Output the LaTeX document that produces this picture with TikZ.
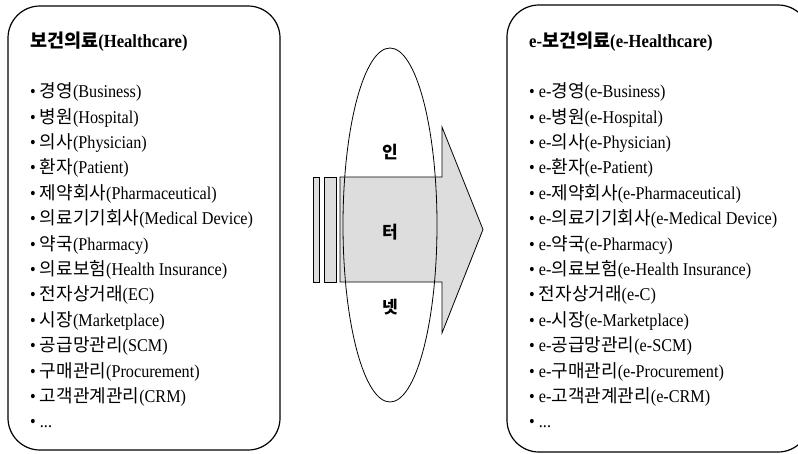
\documentclass[tikz,border=0pt]{standalone}
\usepackage{fontspec}
\setmainfont[FakeStretch=0.9]{Liberation Serif}
\newfontfamily\krfont{Noto Sans CJK KR}
\newcommand\kr[1]{{\krfont #1}}
\begin{document}
\begin{tikzpicture}[x=1pt,y=-1pt,
  lbl/.style={anchor=base west, inner sep=0pt, font=\fontsize{18}{20}\selectfont},
  ttl/.style={anchor=base west, inner sep=0pt, font=\fontsize{18.5}{20}\selectfont\bfseries},
  bigbox/.style={draw=black, line width=1.2pt, rounded corners=32pt},
  grayshape/.style={fill=gray!27, draw=black, line width=0.8pt},
  ringline/.style={draw=black, line width=0.8pt},
  midtext/.style={inner sep=0pt, font=\fontsize{17}{19}\selectfont\krfont\bfseries}]
\useasboundingbox (0,0) rectangle (798,453);
\clip (0,0) rectangle (798,453);
% boxes
\draw[bigbox] (8,6) rectangle (280,450);
\draw[bigbox] (507,5) rectangle (810,452);
% arrow and bars
\draw[grayshape] (313,177) rectangle (319,282);
\draw[grayshape] (324,177) rectangle (336,282);
\draw[grayshape] (340,177) -- (442,177) -- (442,127) -- (483,229.5) -- (442,333) -- (442,282) -- (340,282) -- cycle;
\draw[ringline] (390,225) ellipse [x radius=47pt, y radius=177pt];
\node[midtext] (in) at (390,152) {인};
\node[midtext] (teo) at (390,232) {터};
\node[midtext] (net) at (390,307) {넷};
% left list
\node[ttl] (lt) at (30,47.5) {\kr{보건의료}(Healthcare)};
\node[lbl] (l0) at (30,97.7) {• \kr{경영}(Business)};
\node[lbl] (l1) at (30,123.1) {• \kr{병원}(Hospital)};
\node[lbl] (l2) at (30,148.5) {• \kr{의사}(Physician)};
\node[lbl] (l3) at (30,173.9) {• \kr{환자}(Patient)};
\node[lbl] (l4) at (30,199.3) {• \kr{제약회사}(Pharmaceutical)};
\node[lbl] (l5) at (30,224.7) {• \kr{의료기기회사}(Medical Device)};
\node[lbl] (l6) at (30,250.1) {• \kr{약국}(Pharmacy)};
\node[lbl] (l7) at (30,275.5) {• \kr{의료보험}(Health Insurance)};
\node[lbl] (l8) at (30,300.9) {• \kr{전자상거래}(EC)};
\node[lbl] (l9) at (30,326.3) {• \kr{시장}(Marketplace)};
\node[lbl] (l10) at (30,351.7) {• \kr{공급망관리}(SCM)};
\node[lbl] (l11) at (30,377.1) {• \kr{구매관리}(Procurement)};
\node[lbl] (l12) at (30,402.5) {• \kr{고객관계관리}(CRM)};
\node[lbl] (l13) at (30,427.9) {• ...};
% right list
\node[ttl] (rt) at (529,47.5) {e-\kr{보건의료}(e-Healthcare)};
\node[lbl] (r0) at (529,97.7) {• e-\kr{경영}(e-Business)};
\node[lbl] (r1) at (529,123.1) {• e-\kr{병원}(e-Hospital)};
\node[lbl] (r2) at (529,148.5) {• e-\kr{의사}(e-Physician)};
\node[lbl] (r3) at (529,173.9) {• e-\kr{환자}(e-Patient)};
\node[lbl] (r4) at (529,199.3) {• e-\kr{제약회사}(e-Pharmaceutical)};
\node[lbl] (r5) at (529,224.7) {• e-\kr{의료기기회사}(e-Medical Device)};
\node[lbl] (r6) at (529,250.1) {• e-\kr{약국}(e-Pharmacy)};
\node[lbl] (r7) at (529,275.5) {• e-\kr{의료보험}(e-Health Insurance)};
\node[lbl] (r8) at (529,300.9) {• \kr{전자상거래}(e-C)};
\node[lbl] (r9) at (529,326.3) {• e-\kr{시장}(e-Marketplace)};
\node[lbl] (r10) at (529,351.7) {• e-\kr{공급망관리}(e-SCM)};
\node[lbl] (r11) at (529,377.1) {• e-\kr{구매관리}(e-Procurement)};
\node[lbl] (r12) at (529,402.5) {• e-\kr{고객관계관리}(e-CRM)};
\node[lbl] (r13) at (529,427.9) {• ...};
\end{tikzpicture}
\end{document}
